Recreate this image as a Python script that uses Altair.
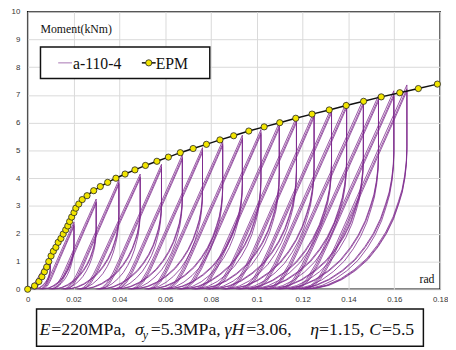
import altair as alt
import pandas as pd

# ---- EPM envelope ----
EPM_X = [0.0, 0.0030, 0.0049, 0.0062, 0.0073, 0.0083, 0.0092, 0.0102, 0.0112, 0.0123,
         0.0133, 0.0145, 0.0155, 0.0166, 0.0175, 0.0183, 0.0192, 0.0202, 0.0210, 0.0223,
         0.0238, 0.0259, 0.0288, 0.0317, 0.0349, 0.0385, 0.0425, 0.0468, 0.0514, 0.0564,
         0.0614, 0.0666, 0.0722, 0.0780, 0.0839, 0.0899, 0.0965, 0.1032, 0.1100, 0.1170,
         0.1241, 0.1316, 0.1390, 0.1466, 0.1543, 0.1624, 0.1705, 0.1788]
EPM_Y = [0.0, 0.12, 0.28, 0.45, 0.63, 0.80, 1.00, 1.20, 1.37, 1.51,
         1.69, 1.83, 1.99, 2.14, 2.28, 2.44, 2.60, 2.76, 2.92, 3.07,
         3.23, 3.37, 3.55, 3.70, 3.85, 4.00, 4.15, 4.30, 4.46, 4.61,
         4.76, 4.92, 5.07, 5.22, 5.38, 5.53, 5.70, 5.85, 6.00, 6.16,
         6.31, 6.46, 6.62, 6.77, 6.93, 7.08, 7.23, 7.39]

# ---- a-110-4 cyclic test: per amplitude level ----
PEAK_X = [0.0099, 0.0202, 0.0299, 0.0398, 0.0491, 0.0584, 0.0675, 0.0763, 0.0851, 0.0937,
          0.1018, 0.1098, 0.1173, 0.1250, 0.1326, 0.1392, 0.1465, 0.1531, 0.1598, 0.1655]
PEAK_Y1 = [1.19, 2.42, 3.25, 3.94, 4.15, 4.50, 4.85, 5.10, 5.35, 5.55,
           5.75, 6.00, 6.20, 6.40, 6.55, 6.75, 6.85, 6.98, 7.15, 7.36]
PEAK_Y2 = [1.12, 2.33, 3.15, 3.84, 4.05, 4.40, 4.74, 5.00, 5.24, 5.44,
           5.64, 5.88, 6.08, 6.28, 6.43, 6.62, 6.72, 6.86, 7.02, 7.22]
PEAK_Y3 = [1.08, 2.27, 3.09, 3.78, 3.99, 4.33, 4.67, 4.93, 5.17, 5.37,
           5.57, 5.80, 6.00, 6.20, 6.35, 6.54, 6.64, 6.78, 6.94, 7.14]
RES_X1 = [0.0000, 0.0048, 0.0092, 0.0147, 0.0215, 0.0297, 0.0366, 0.0437, 0.0510, 0.0583,
          0.0652, 0.0716, 0.0778, 0.0846, 0.0909, 0.0962, 0.1025, 0.1082, 0.1139, 0.1186]
RES_X2 = [0.0022, 0.0056, 0.0100, 0.0155, 0.0223, 0.0305, 0.0374, 0.0445, 0.0518, 0.0591,
          0.0660, 0.0724, 0.0786, 0.0854, 0.0917, 0.0970, 0.1033, 0.1090, 0.1147, 0.1194]
RES_X3 = [0.0028, 0.0062, 0.0107, 0.0162, 0.0230, 0.0312, 0.0381, 0.0452, 0.0525, 0.0598,
          0.0667, 0.0731, 0.0793, 0.0861, 0.0924, 0.0977, 0.1040, 0.1097, 0.1154, 0.1201]
FINAL_RES = 0.1208

RELOAD_U = [0.00, 0.05, 0.10, 0.17, 0.26, 0.34, 0.42, 0.50, 0.58, 0.67, 0.75, 0.84, 0.92, 1.00]
RELOAD_V = [0.00, 0.003, 0.015, 0.05, 0.13, 0.22, 0.315, 0.41, 0.505, 0.61, 0.705, 0.81, 0.905, 1.00]
UNLOAD_U = [1.00, 1.00, 0.995, 0.98, 0.955, 0.92, 0.87, 0.80, 0.72, 0.62, 0.50, 0.37, 0.24, 0.11, 0.00]
UNLOAD_V = [1.00, 0.70, 0.63, 0.56, 0.49, 0.43, 0.355, 0.28, 0.215, 0.15, 0.095, 0.05, 0.02, 0.004, 0.0]

X_TICKS = [0, 0.02, 0.04, 0.06, 0.08, 0.1, 0.12, 0.14, 0.16, 0.18]
Y_TICKS = [0, 1, 2, 3, 4, 5, 6, 7, 8, 9, 10]

cycles = []
for L in range(len(PEAK_X)):
    for rx, py in ((RES_X1[L], PEAK_Y1[L]), (RES_X2[L], PEAK_Y2[L]), (RES_X3[L], PEAK_Y3[L])):
        cycles.append((rx, PEAK_X[L], py))
ends = [c[0] for c in cycles[1:]] + [FINAL_RES]
rows = []
for (rx, px, py), ex in zip(cycles, ends):
    for u, v in zip(RELOAD_U, RELOAD_V):
        rows.append({"x": rx + u * (px - rx), "y": v * py, "o": len(rows)})
    for u, v in zip(UNLOAD_U[1:], UNLOAD_V[1:]):
        rows.append({"x": ex + u * (px - ex), "y": v * py, "o": len(rows)})
loops = pd.DataFrame(rows)
epm = pd.DataFrame({"x": EPM_X, "y": EPM_Y})
one = pd.DataFrame({"a": [0]})

PURPLE = "#7E2A8E"
SERIF = "Liberation Serif, Times New Roman, serif"
xs = alt.Scale(domain=[0, 0.18], nice=False, zero=False)
ys = alt.Scale(domain=[0, 10], nice=False)
xax = alt.Axis(values=X_TICKS, format="~g", title=None, ticks=False, domain=False,
               grid=True, gridColor="#d9d9d9", labelFont="Liberation Sans", labelFontSize=8,
               labelColor="#333", labelPadding=6, labelFlush=False, labelOverlap=False)
yax = alt.Axis(values=Y_TICKS, title=None, ticks=False, domain=False,
               grid=True, gridColor="#d9d9d9", labelFont="Liberation Sans", labelFontSize=8,
               labelColor="#333", labelPadding=8, labelOverlap=False, labelFlush=False)
X = alt.X("x:Q", scale=xs, axis=xax)
Y = alt.Y("y:Q", scale=ys, axis=yax)

loop_line = alt.Chart(loops).mark_line(color=PURPLE, strokeWidth=0.8, clip=True).encode(
    x=X, y=Y, order="o:Q")
epm_line = alt.Chart(epm).mark_line(color="#111", strokeWidth=1.5).encode(x=X, y=Y)
epm_pts = alt.Chart(epm).mark_point(filled=True, shape="circle", size=40, fill="#F2E500",
                                    stroke="#222", strokeWidth=0.8, opacity=1).encode(x=X, y=Y)

def txt(s, x, y, size, italic=False, font=SERIF):
    return alt.Chart(one).mark_text(text=s, align="left", baseline="alphabetic", font=font,
                                    fontSize=size, fontStyle="italic" if italic else "normal",
                                    color="#111").encode(x=alt.value(x), y=alt.value(y))

legend_box = alt.Chart(one).mark_rect(fill="white", stroke="#111", strokeWidth=1.5).encode(
    x=alt.value(13), x2=alt.value(185), y=alt.value(36), y2=alt.value(68))
leg_line1 = alt.Chart(one).mark_rule(color="#B58BBE", strokeWidth=1.2).encode(
    x=alt.value(31), x2=alt.value(45), y=alt.value(52))
leg_line2 = alt.Chart(one).mark_rule(color="#111", strokeWidth=1.5).encode(
    x=alt.value(116), x2=alt.value(130), y=alt.value(52))
leg_pt = alt.Chart(one).mark_point(filled=True, shape="circle", size=40, fill="#F2E500",
                                   stroke="#222", strokeWidth=0.8, opacity=1).encode(
    x=alt.value(123), y=alt.value(52))

formula_box = alt.Chart(one).mark_rect(fill="white", stroke="#111", strokeWidth=1.5).encode(
    x=alt.value(9), x2=alt.value(402), y=alt.value(302), y2=alt.value(340))

BL = 328
FS = 18
formula = [
    txt("E", 12, BL, FS, True),
    txt("=220MPa,", 24, BL, FS),
    txt("σ", 109, BL, FS, True),
    txt("y", 117, BL + 5, 12, True),
    txt("=5.3MPa,", 125, BL, FS),
    txt("γH", 200, BL, FS, True),
    txt("=3.06,", 222, BL, FS),
    txt("η", 287, BL, FS, True),
    txt("=1.15,", 296, BL, FS),
    txt("C", 347, BL, FS, True),
    txt("=5.5", 360, BL, FS),
]

chart = alt.layer(
    loop_line, epm_line, epm_pts,
    legend_box, leg_line1, leg_line2, leg_pt,
    txt("a-110-4", 46, 58, 16), txt("EPM", 130, 58, 16),
    txt("Moment(kNm)", 13, 22, 12), txt("rad", 398, 276, 12),
    formula_box, *formula,
).properties(
    width=419, height=282,
    autosize=alt.AutoSizeParams(type="none"),
    padding={"left": 20, "top": 1, "right": 8, "bottom": 59},
).configure_view(stroke="#111", strokeWidth=1.5)

chart.save("out.html", embed_options={"renderer": "svg", "actions": False})
